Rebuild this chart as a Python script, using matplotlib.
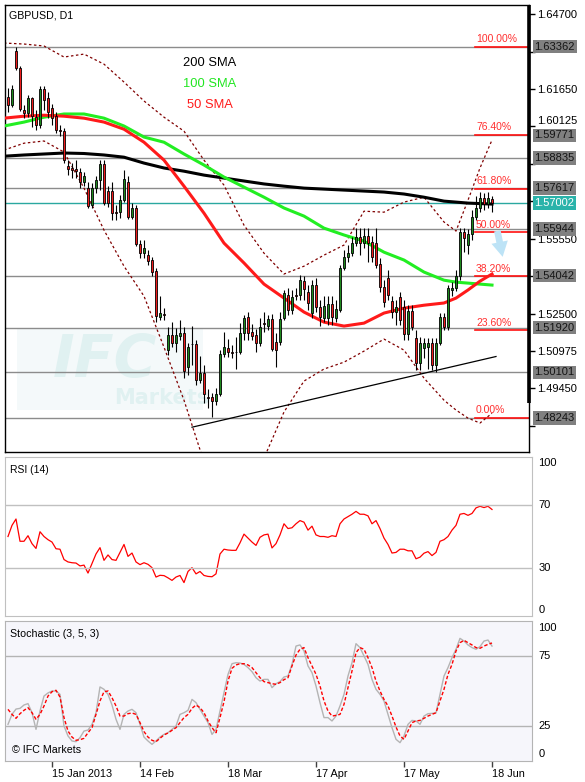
import numpy as np
import pandas as pd
import matplotlib
matplotlib.use("Agg")
import matplotlib.pyplot as plt
from matplotlib.transforms import blended_transform_factory as blend
from matplotlib.patches import Rectangle

plt.rcParams['font.family'] = ['Liberation Sans', 'DejaVu Sans']

# ---- data ----
dates = pd.bdate_range('2012-12-31', '2013-06-18')

opens = [1.6132, 1.6099, 1.6319, 1.6250, 1.6079, 1.6067, 1.6128, 1.6050, 1.6018, 1.6164,
         1.6128, 1.6087, 1.6054, 1.5997, 1.5993, 1.5851, 1.5843, 1.5839, 1.5826, 1.5786,
         1.5761, 1.5692, 1.5761, 1.5794, 1.5859, 1.5749, 1.5749, 1.5663, 1.5663, 1.5712,
         1.5786, 1.5643, 1.5680, 1.5533, 1.5496, 1.5488, 1.5468, 1.5423, 1.5236, 1.5248,
         1.5101, 1.5162, 1.5130, 1.5158, 1.5170, 1.5032, 1.5126, 1.5126, 1.4979, 1.5007,
         1.4910, 1.4910, 1.4893, 1.4922, 1.5085, 1.5109, 1.5093, 1.5093, 1.5093, 1.5170,
         1.5236, 1.5174, 1.5162, 1.5130, 1.5211, 1.5199, 1.5227, 1.5134, 1.5134, 1.5231,
         1.5325, 1.5264, 1.5325, 1.5325, 1.5382, 1.5337, 1.5252, 1.5366, 1.5276, 1.5231,
         1.5231, 1.5289, 1.5231, 1.5264, 1.5435, 1.5480, 1.5496, 1.5537, 1.5561, 1.5537,
         1.5566, 1.5541, 1.5537, 1.5451, 1.5358, 1.5394, 1.5301, 1.5256, 1.5317, 1.5276,
         1.5166, 1.5260, 1.5150, 1.5048, 1.5109, 1.5113, 1.5130, 1.5040, 1.5130, 1.5236,
         1.5195, 1.5346, 1.5354, 1.5403, 1.5582, 1.5529, 1.5574, 1.5643, 1.5680, 1.5720,
         1.5696, 1.5716]
highs = [1.6169, 1.6181, 1.6336, 1.6258, 1.6099, 1.6140, 1.6132, 1.6079, 1.6177, 1.6177,
         1.6152, 1.6103, 1.6071, 1.6018, 1.6006, 1.5875, 1.5863, 1.5875, 1.5843, 1.5826,
         1.5786, 1.5781, 1.5810, 1.5875, 1.5875, 1.5769, 1.5786, 1.5692, 1.5733, 1.5834,
         1.5810, 1.5700, 1.5692, 1.5549, 1.5549, 1.5509, 1.5480, 1.5435, 1.5321, 1.5272,
         1.5195, 1.5215, 1.5191, 1.5223, 1.5195, 1.5130, 1.5199, 1.5142, 1.5077, 1.5040,
         1.4942, 1.4926, 1.4946, 1.5101, 1.5174, 1.5146, 1.5121, 1.5154, 1.5211, 1.5244,
         1.5256, 1.5207, 1.5187, 1.5231, 1.5256, 1.5244, 1.5248, 1.5170, 1.5256, 1.5346,
         1.5354, 1.5346, 1.5354, 1.5407, 1.5403, 1.5366, 1.5386, 1.5394, 1.5305, 1.5321,
         1.5321, 1.5321, 1.5305, 1.5447, 1.5509, 1.5529, 1.5561, 1.5598, 1.5598, 1.5598,
         1.5598, 1.5566, 1.5598, 1.5476, 1.5386, 1.5427, 1.5321, 1.5305, 1.5337, 1.5305,
         1.5284, 1.5284, 1.5183, 1.5154, 1.5150, 1.5150, 1.5150, 1.5150, 1.5252, 1.5252,
         1.5366, 1.5378, 1.5427, 1.5598, 1.5598, 1.5594, 1.5671, 1.5729, 1.5745, 1.5741,
         1.5745, 1.5729]
lows = [1.6071, 1.6091, 1.6242, 1.6075, 1.6046, 1.6050, 1.6010, 1.5997, 1.6006, 1.6079,
        1.6046, 1.6018, 1.5985, 1.5973, 1.5863, 1.5814, 1.5802, 1.5802, 1.5761, 1.5769,
        1.5680, 1.5680, 1.5741, 1.5753, 1.5692, 1.5684, 1.5631, 1.5631, 1.5639, 1.5704,
        1.5635, 1.5635, 1.5525, 1.5476, 1.5476, 1.5447, 1.5403, 1.5215, 1.5223, 1.5223,
        1.5081, 1.5113, 1.5093, 1.5142, 1.4987, 1.4999, 1.5040, 1.4959, 1.4967, 1.4885,
        1.4865, 1.4828, 1.4877, 1.4914, 1.5073, 1.5073, 1.5069, 1.5024, 1.5085, 1.5142,
        1.5142, 1.5142, 1.5093, 1.5117, 1.5174, 1.5183, 1.5097, 1.5032, 1.5121, 1.5223,
        1.5244, 1.5248, 1.5305, 1.5305, 1.5305, 1.5264, 1.5231, 1.5256, 1.5199, 1.5215,
        1.5203, 1.5203, 1.5215, 1.5256, 1.5427, 1.5460, 1.5484, 1.5525, 1.5488, 1.5517,
        1.5460, 1.5460, 1.5435, 1.5337, 1.5276, 1.5305, 1.5231, 1.5203, 1.5203, 1.5142,
        1.5142, 1.5183, 1.5020, 1.5020, 1.5069, 1.5024, 1.5020, 1.5012, 1.5121, 1.5183,
        1.5183, 1.5321, 1.5341, 1.5386, 1.5500, 1.5492, 1.5549, 1.5631, 1.5663, 1.5671,
        1.5680, 1.5663]
closes = [1.6099, 1.6164, 1.6250, 1.6083, 1.6067, 1.6128, 1.6054, 1.6018, 1.6164, 1.6120,
          1.6071, 1.6046, 1.5997, 1.5993, 1.5875, 1.5839, 1.5834, 1.5830, 1.5786, 1.5810,
          1.5688, 1.5761, 1.5794, 1.5859, 1.5700, 1.5700, 1.5659, 1.5661, 1.5712, 1.5798,
          1.5643, 1.5680, 1.5533, 1.5496, 1.5517, 1.5464, 1.5419, 1.5240, 1.5252, 1.5246,
          1.5162, 1.5130, 1.5162, 1.5170, 1.5016, 1.5113, 1.5124, 1.4979, 1.5007, 1.4922,
          1.4908, 1.4893, 1.4922, 1.5085, 1.5113, 1.5093, 1.5091, 1.5095, 1.5170, 1.5231,
          1.5170, 1.5158, 1.5130, 1.5195, 1.5209, 1.5227, 1.5105, 1.5101, 1.5227, 1.5333,
          1.5264, 1.5317, 1.5323, 1.5386, 1.5350, 1.5293, 1.5366, 1.5276, 1.5236, 1.5280,
          1.5289, 1.5236, 1.5268, 1.5435, 1.5480, 1.5496, 1.5537, 1.5561, 1.5537, 1.5566,
          1.5537, 1.5480, 1.5447, 1.5358, 1.5297, 1.5325, 1.5256, 1.5276, 1.5223, 1.5166,
          1.5260, 1.5195, 1.5048, 1.5130, 1.5130, 1.5130, 1.5040, 1.5130, 1.5236, 1.5195,
          1.5354, 1.5354, 1.5403, 1.5582, 1.5557, 1.5574, 1.5643, 1.5680, 1.5720, 1.5696,
          1.5720, 1.5700]

# indicator lines, read at these bar positions
line_idx = [-1, 4, 9, 14, 19, 24, 29, 34, 39, 44, 49, 54, 59, 64, 69, 74, 79, 84, 89,
            94, 99, 104, 109, 112, 115, 118, 121]
sma200 = [1.5891, 1.5896, 1.5900, 1.5904, 1.5902, 1.5896, 1.5887, 1.5863, 1.5843, 1.5830,
          1.5814, 1.5802, 1.5790, 1.5778, 1.5769, 1.5761, 1.5757, 1.5753, 1.5749, 1.5745,
          1.5737, 1.5724, 1.5708, 1.5704, 1.5700, 1.5698, 1.5696]
sma100 = [1.6014, 1.6030, 1.6050, 1.6063, 1.6063, 1.6046, 1.6014, 1.5969, 1.5948, 1.5900,
          1.5855, 1.5806, 1.5765, 1.5724, 1.5680, 1.5647, 1.5598, 1.5570, 1.5545, 1.5500,
          1.5468, 1.5419, 1.5386, 1.5378, 1.5374, 1.5370, 1.5366]
sma50 = [1.6046, 1.6054, 1.6058, 1.6054, 1.6046, 1.6030, 1.6001, 1.5948, 1.5875, 1.5769,
         1.5659, 1.5537, 1.5456, 1.5370, 1.5313, 1.5256, 1.5215, 1.5199, 1.5211, 1.5252,
         1.5272, 1.5284, 1.5293, 1.5313, 1.5346, 1.5382, 1.5411]
bb_upper = [1.6352, 1.6348, 1.6340, 1.6295, 1.6307, 1.6266, 1.6193, 1.6116, 1.6050, 1.5993,
            1.5875, 1.5773, 1.5610, 1.5496, 1.5411, 1.5443, 1.5488, 1.5529, 1.5667, 1.5663,
            1.5704, 1.5724, 1.5623, 1.5586, 1.5712, 1.5843, 1.5957]
bb_lower = [1.5916, 1.5944, 1.5953, 1.5908, 1.5761, 1.5590, 1.5443, 1.5321, 1.5113, 1.4897,
            1.4645, 1.4571, 1.4571, 1.4661, 1.4849, 1.4975, 1.5024, 1.5052, 1.5097, 1.5146,
            1.5101, 1.4987, 1.4897, 1.4857, 1.4824, 1.4804, 1.4844]

rsi = [50, 57, 61, 47, 47, 50.5, 45.5, 42.5, 53, 50,
       48, 46.5, 42.3, 42, 35.5, 34, 33.5, 33.3, 31.5, 32,
       27, 33, 39, 43, 35, 38.4, 35.5, 35, 40, 45,
       37.5, 39.6, 34, 32.3, 33.5, 32.5, 30.4, 24.5, 25.6, 25.4,
       24, 22.4, 24.5, 25.5, 21, 28, 30.4, 26.5, 28, 25.5,
       24.9, 24.7, 26.5, 39, 42, 41.5, 41.3, 41.3, 46, 51.5,
       49, 46.5, 44.4, 49.5, 51, 51.5, 42.8, 45.5, 51, 58,
       55, 55.5, 58, 60, 59, 54, 56.5, 51, 50, 50,
       49.5, 50.5, 50, 58, 61, 62.5, 64, 65.8, 64, 64,
       63, 58, 60, 55, 49, 45, 39.6, 40, 42, 42,
       41, 41, 36, 37, 39.5, 40.5, 38, 40, 47, 48,
       50, 54, 57, 64, 64.5, 63.3, 64.5, 68, 69, 68.2, 69, 67]
stoch_k = [26.2, 33.3, 37.1, 37.6, 40.0, 41.0, 34.5, 22.6, 35.7, 46.4,
           48.6, 50.0, 50.0, 47.6, 25.0, 17.9, 14.3, 13.8, 16.7, 21.4,
           22.1, 26.2, 34.5, 52.9, 51.2, 47.6, 40.0, 29.8, 22.6, 33.3,
           35.7, 36.9, 34.5, 26.2, 17.1, 14.3, 11.9, 14.3, 17.1, 19.0,
           20.2, 22.6, 25.0, 33.3, 34.5, 36.2, 44.0, 41.7, 36.9, 32.1,
           27.4, 19.0, 22.6, 35.7, 48.8, 61.9, 69.5, 70.2, 70.0, 69.0,
           66.7, 63.8, 59.5, 57.1, 58.3, 58.3, 52.4, 55.2, 56.7, 60.0,
           60.7, 69.0, 82.1, 82.9, 78.6, 67.9, 63.1, 53.6, 41.7, 31.0,
           31.0, 28.6, 32.1, 39.3, 47.6, 60.7, 70.2, 83.8, 81.0, 75.0,
           69.0, 58.3, 51.2, 47.6, 42.9, 33.3, 23.8, 15.5, 13.1, 17.9,
           26.2, 29.0, 28.6, 26.2, 32.1, 33.8, 34.0, 34.3, 47.6, 60.7,
           66.7, 73.8, 79.8, 87.6, 85.7, 82.9, 81.0, 79.8, 81.7, 85.7, 86.4, 82.1]
stoch_d = [36.9, 33.3, 30.5, 33.8, 36.2, 38.1, 34.5, 29.8, 33.3, 39.3,
           46.4, 49.5, 50.5, 45.7, 31.0, 21.4, 17.1, 14.8, 15.2, 16.2,
           20.2, 23.8, 33.3, 42.9, 49.5, 50.0, 45.2, 39.3, 32.1, 32.1,
           33.8, 34.3, 33.3, 27.4, 21.0, 17.1, 14.8, 13.8, 16.2, 18.6,
           20.0, 21.9, 23.8, 27.4, 31.0, 33.3, 37.6, 40.0, 38.1, 34.5,
           28.6, 23.8, 20.2, 31.0, 42.4, 57.1, 66.2, 68.6, 69.5, 69.5,
           68.6, 66.7, 63.1, 59.5, 56.7, 56.0, 55.2, 54.8, 56.0, 58.1,
           59.5, 67.9, 75.7, 79.8, 81.0, 73.8, 67.9, 61.9, 53.6, 42.9,
           35.7, 32.1, 32.6, 33.3, 40.5, 52.4, 64.3, 77.4, 81.0, 79.8,
           73.8, 66.7, 57.1, 50.0, 44.0, 39.3, 32.1, 24.3, 17.9, 15.5,
           21.4, 27.4, 28.6, 29.0, 30.5, 32.1, 33.3, 34.5, 42.9, 51.2,
           61.9, 69.0, 78.6, 84.5, 86.2, 84.5, 82.9, 81.0, 80.5, 82.1, 83.3, 84.3]

level_prices = [1.63362, 1.59771, 1.58835, 1.57617, 1.55944, 1.54042, 1.51920, 1.50101, 1.48243]
last_price = 1.57002
fib_low, fib_high = 1.48243, 1.63362
fib_ratios = [0.0, 23.6, 38.2, 50.0, 61.8, 76.4, 100.0]
price_ticks = [1.47925, 1.49450, 1.50975, 1.52500, 1.54025, 1.55550,
               1.57075, 1.58600, 1.60125, 1.61650, 1.63175, 1.64700]
trend_idx = [46, 122]
trend_price = [1.4787, 1.5075]
arrow_idx = [122.2, 123.8]
arrow_price = [1.5598, 1.5470]
date_ticks = ['2013-01-15', '2013-02-14', '2013-03-18', '2013-04-17', '2013-05-17', '2013-06-18']
date_labels = ['15 Jan 2013', '14 Feb', '18 Mar', '17 Apr', '17 May', '18 Jun']
rsi_levels = [70, 30]
stoch_levels = [75, 25]

# ---- layout (pixel boxes of the 585x782 picture) ----
W, H = 585, 782
fig = plt.figure(figsize=(W / 100, H / 100), dpi=100)
fig.patch.set_facecolor('white')


def box(l, t, r, b):
    return [l / W, 1 - b / H, (r - l) / W, (b - t) / H]


ax = fig.add_axes(box(5, 5, 529, 452))
ax_rsi = fig.add_axes(box(5, 457, 532, 616))
ax_st = fig.add_axes(box(5, 621, 532, 761))

x = np.arange(len(dates))
o, h, l, c = map(np.array, (opens, highs, lows, closes))
up = c >= o

# watermark
ax.add_patch(Rectangle((0.023, 0.094), 0.355, 0.183, transform=ax.transAxes,
                       fc='#f4f9fa', ec='none', zorder=0.5))
ax.text(0.19, 0.205, 'IFC', transform=ax.transAxes, ha='center', va='center',
        fontsize=42, fontweight='bold', fontstyle='italic', color='#e0f1f1',
        family='DejaVu Sans', zorder=0.6)
ax.text(0.30, 0.12, 'Markets', transform=ax.transAxes, ha='center', va='center',
        fontsize=15, fontweight='bold', color='#e0f1f1', family='DejaVu Sans', zorder=0.6)

# horizontal levels
for lv in level_prices:
    ax.axhline(lv, color='#8c8c8c', lw=1, zorder=1)
ax.axhline(last_price, color='#2aa8a0', lw=1, zorder=1)

# fibonacci segments
tr = blend(ax.transAxes, ax.transData)
for r in fib_ratios:
    p = fib_low + (fib_high - fib_low) * r / 100
    ax.plot([0.897, 1.0], [p, p], transform=tr, color='#ff1010', lw=1.2, zorder=1.5)
    ax.annotate(f'{r:.2f}%', xy=(0.899, p), xycoords=tr, xytext=(0, 2),
                textcoords='offset points', ha='left', va='bottom',
                fontsize=7.5, color='#ff3030', zorder=6)

# bands & moving averages
ax.plot(line_idx, bb_upper, color='#800000', lw=0.9, ls=(0, (2, 2)), zorder=2)
ax.plot(line_idx, bb_lower, color='#800000', lw=0.9, ls=(0, (2, 2)), zorder=2)
ax.plot(line_idx, sma200, color='black', lw=2.2, zorder=3)
ax.plot(line_idx, sma100, color='#22ee22', lw=2.2, zorder=3)
ax.plot(line_idx, sma50, color='#ff1a1a', lw=2.2, zorder=3)
ax.plot(trend_idx, trend_price, color='black', lw=0.9, zorder=3)

# candles
ax.vlines(x, l, h, color='black', lw=0.8, zorder=4)
ax.bar(x, np.abs(c - o), bottom=np.minimum(o, c), width=0.72,
       color=np.where(up, '#1e8a1e', '#ee1c1c'), edgecolor='black', linewidth=0.6, zorder=5)

ax.annotate('', xy=(arrow_idx[1], arrow_price[1]), xytext=(arrow_idx[0], arrow_price[0]),
            arrowprops=dict(arrowstyle='simple,head_length=0.9,head_width=1.0,tail_width=0.4',
                            fc='#bde3f6', ec='none', mutation_scale=12),
            annotation_clip=False, zorder=6)

ax.set_xlim(-0.75, 130.25)
ax.set_ylim(1.4686, 1.6507)
ax.set_xticks([])
ax.yaxis.tick_right()
ax.set_yticks(price_ticks)
# labels hidden under a level box are left blank
all_boxes = level_prices + [last_price]
ax.set_yticklabels(['' if min(abs(t - b) for b in all_boxes) < 0.0033 else f'{t:.5f}'
                    for t in price_ticks])
ax.tick_params(axis='y', direction='out', length=4, width=1, pad=2, labelsize=8)
# a label sitting just above a box is lifted clear of it
for t, lbl in zip(price_ticks, ax.get_yticklabels()):
    if 0.0033 <= min(abs(t - b) for b in all_boxes) < 0.0038 and t > 1.59771:
        lbl.set_va('bottom')
for s in ax.spines.values():
    s.set_color('black')
    s.set_linewidth(1)
ax.plot([1, 1], [0.11, 1], transform=ax.transAxes, color='black', lw=2.6,
        solid_capstyle='butt', clip_on=False, zorder=7)

for lv in level_prices:
    ax.text(1.0105, lv, f'{lv:.5f}', transform=tr, ha='left', va='center', fontsize=8,
            color='#151515', clip_on=False, zorder=10,
            bbox=dict(boxstyle='square,pad=0.14', fc='#808080', ec='none'))
ax.text(1.0105, last_price, f'{last_price:.5f}', transform=tr, ha='left', va='center',
        fontsize=8, color='white', clip_on=False, zorder=10,
        bbox=dict(boxstyle='square,pad=0.14', fc='#2ab3aa', ec='none'))

fig.text(9 / W, 1 - 15 / H, 'GBPUSD, D1', ha='left', va='center', fontsize=7.7)
fig.text(183 / W, 1 - 63 / H, '200 SMA', ha='left', va='center', fontsize=9.3, color='black')
fig.text(183 / W, 1 - 84 / H, '100 SMA', ha='left', va='center', fontsize=9.3, color='#22e622')
fig.text(187 / W, 1 - 105 / H, '50 SMA', ha='left', va='center', fontsize=9.3, color='#ff1a1a')

# RSI panel
ax_rsi.plot(x, rsi, color='#ff0000', lw=0.9)
for lv in rsi_levels:
    ax_rsi.axhline(lv, color='#c0c0c0', lw=1)
ax_rsi.set_xlim(-0.75, 131.0)
ax_rsi.set_ylim(0, 100)
ax_rsi.set_xticks([])
ax_rsi.set_yticks([])
for s in ax_rsi.spines.values():
    s.set_color('#c0c0c0')
tr_r = blend(ax_rsi.transAxes, ax_rsi.transData)
for val, ypos in [('100', 96.5), ('70', 70), ('30', 30), ('0', 4)]:
    ax_rsi.text(1.012, ypos, val, transform=tr_r, ha='left', va='center',
                fontsize=8, clip_on=False)
ax_rsi.text(0.01, 0.92, 'RSI (14)', transform=ax_rsi.transAxes, ha='left', va='center',
            fontsize=7.5)

# Stochastic panel
ax_st.set_facecolor('#f6f6fb')
for lv in stoch_levels:
    ax_st.axhline(lv, color='#b4b4b4', lw=1)
ax_st.plot(x, stoch_k, color='#b4b4b4', lw=1)
ax_st.plot(x, stoch_d, color='#ff0000', lw=1, ls=(0, (2.5, 1.5)))
ax_st.set_xlim(-0.75, 131.0)
ax_st.set_ylim(0, 100)
ax_st.set_yticks([])
for s in ax_st.spines.values():
    s.set_color('#b4b4b4')
tick_pos = [dates.get_loc(pd.Timestamp(d)) for d in date_ticks]
ax_st.set_xticks(tick_pos)
ax_st.set_xticklabels(date_labels)
ax_st.tick_params(axis='x', direction='out', length=4, width=1, color='#404040',
                  pad=2, labelsize=7.8)
for lbl in ax_st.get_xticklabels():
    lbl.set_ha('left')
tr_s = blend(ax_st.transAxes, ax_st.transData)
for val, ypos in [('100', 95), ('75', 75), ('25', 25), ('0', 5)]:
    ax_st.text(1.012, ypos, val, transform=tr_s, ha='left', va='center',
               fontsize=8, clip_on=False)
ax_st.text(0.01, 0.91, 'Stochastic (3, 5, 3)', transform=ax_st.transAxes, ha='left',
           va='center', fontsize=7.7)
ax_st.text(0.013, 0.08, '\u00a9 IFC Markets', transform=ax_st.transAxes, ha='left',
           va='center', fontsize=7.7)

fig.savefig('out.png', dpi=100)
